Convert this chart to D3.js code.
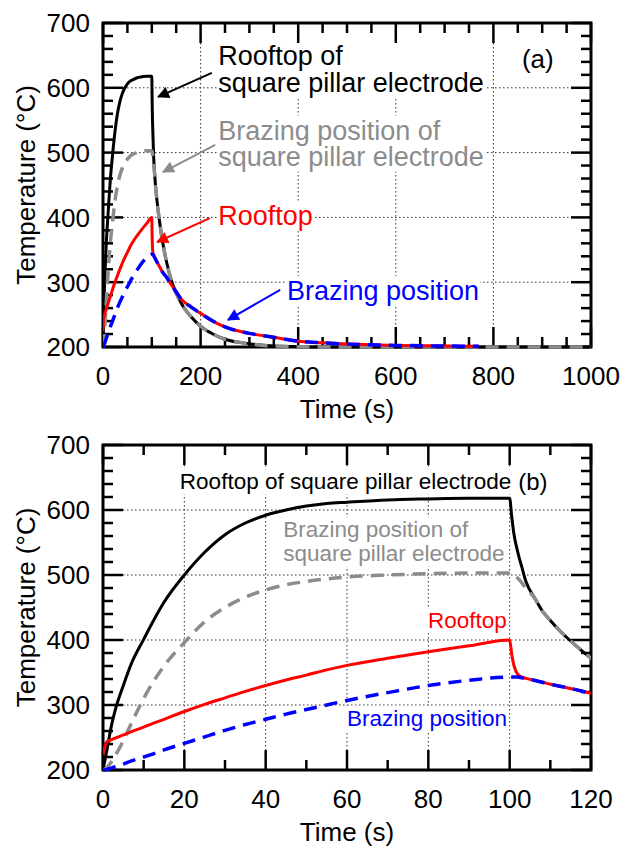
<!DOCTYPE html>
<html>
<head>
<meta charset="utf-8">
<script src="https://cdn.jsdelivr.net/npm/d3@7"></script>
<style>
  body { margin: 0; background: #fff; }
  svg { display: block; }
  text { font-family: "Liberation Sans", Arial, Helvetica, sans-serif; }
</style>
</head>
<body>
<svg id="chart" width="633" height="847"></svg>
<script>
// Time samples (s) shared by all four temperature histories
const timeS = [0,1,2,3,5,7,10,12,15,20, 25,30,35,40,45,50,55,60,70,80,
  90,100,100.5,101,102,103,104,106,108,110, 113,116,120,130,140,150,160,180,200,225,
  250,300,350,400,450,500,600,700,770,800, 900,1000];

// Temperature (°C) at the rooftop of the square pillar electrode
const rooftopSquare = [200,232,266,292,330,364,401,425,458,500, 535,562,580,592,600,606,610,612,615.5,617,
  618,618,590,565,535,512,490,466,445,430, 410,393,372,332,303,283,268,247,232,220,
  212,205,201.5,200.5,200,200,200,200,200,200, 200,200];

// Temperature (°C) at the brazing position of the square pillar electrode
const brazingSquare = [200,204,212,222,245,272,310,332,360,396, 428,450,466,477,485,490,494,497,500,502,
  503,503,502,500,495,488,479,466,445,430, 410,393,372,332,303,283,268,247,232,220,
  212,205,201.5,200.5,200,200,200,200,200,200, 200,200];

// Temperature (°C) at the rooftop
const rooftop = [224,244,246.5,249,254,259,266,271,278,290, 301,311,321,330,338.5,346,354,361,372,382,
  391,400,378,362,347,343,341,338,335,332, 328,324,318,308,296,285,274,262,252,240,
  231,221,215,209,206.5,204.5,202.5,201.5,201,null, null,null];

// Temperature (°C) at the brazing position
const brazing = [200,201,203,205,209,214,220,224,231,241, 251,261,270,278,286,293,300,307,319,330,
  338,343,343,343,343,342,341,338,335,332, 328,324,318,308,296,285,274,262,252,240,
  231,221,215,209,206.5,204.5,202.5,201.5,201,null, null,null];

// Tick labels
const yTickLabels = [200,300,400,500,600,700];
const xTickLabelsA = [0,200,400,600,800,1000];
const xTickLabelsB = [0,20,40,60,80,100,120];

const series = [
  { name: "rooftopSquare", values: rooftopSquare, color: "#000000", width: 3,   dash: null },
  { name: "brazingSquare", values: brazingSquare, color: "#8c8c8c", width: 3.5, dash: "13,8" },
  { name: "rooftop",       values: rooftop,       color: "#ff0000", width: 3,   dash: null },
  { name: "brazing",       values: brazing,       color: "#0000ff", width: 3.5, dash: "13,8" }
];

const svg = d3.select("#chart");
svg.append("rect").attr("width", 633).attr("height", 847).attr("fill", "#fff");
const defs = svg.append("defs");

function arrowMarker(id, color) {
  defs.append("marker")
    .attr("id", id)
    .attr("viewBox", "0 0 10 10")
    .attr("refX", 9).attr("refY", 5)
    .attr("markerWidth", 18).attr("markerHeight", 12)
    .attr("markerUnits", "userSpaceOnUse")
    .attr("orient", "auto")
    .append("path").attr("d", "M0,0 L10,5 L0,10 Z").attr("fill", color);
}

function drawPanel(cfg) {
  const left = 103, right = 591;
  const x = d3.scaleLinear().domain(cfg.xDomain).range([left, right]);
  const y = d3.scaleLinear().domain([200, 700]).range([cfg.bottom, cfg.top]);
  const g = svg.append("g");

  // dotted grid at the major ticks
  const grid = g.append("g").attr("stroke", "#333").attr("stroke-width", 1).attr("stroke-dasharray", "1.5,2.5");
  cfg.xTicks.slice(1, -1).forEach(v => grid.append("line")
    .attr("x1", x(v)).attr("x2", x(v)).attr("y1", cfg.top).attr("y2", cfg.bottom));
  yTickLabels.slice(1, -1).forEach(v => grid.append("line")
    .attr("x1", left).attr("x2", right).attr("y1", y(v)).attr("y2", y(v)));

  const boxLayer = g.append("g");
  const frameLayer = g.append("g");
  const curveLayer = g.append("g");
  const textLayer = g.append("g");

  // frame
  frameLayer.append("rect")
    .attr("x", left).attr("y", cfg.top)
    .attr("width", right - left).attr("height", cfg.bottom - cfg.top)
    .attr("fill", "none").attr("stroke", "#000").attr("stroke-width", 3);

  // inward ticks on all four sides
  const ticks = frameLayer.append("g").attr("stroke", "#000").attr("stroke-width", 2.5);
  const [xa, xb] = cfg.xDomain;
  d3.range(xa, xb + 1e-9, cfg.xMinor).forEach(v => {
    const len = cfg.xTicks.includes(v) ? 20 : 10;
    ticks.append("line").attr("x1", x(v)).attr("x2", x(v)).attr("y1", cfg.bottom).attr("y2", cfg.bottom - len);
    ticks.append("line").attr("x1", x(v)).attr("x2", x(v)).attr("y1", cfg.top).attr("y2", cfg.top + len);
  });
  d3.range(200, 700 + 1e-9, 20).forEach(v => {
    const len = yTickLabels.includes(v) ? 20 : 10;
    ticks.append("line").attr("x1", left).attr("x2", left + len).attr("y1", y(v)).attr("y2", y(v));
    ticks.append("line").attr("x1", right).attr("x2", right - len).attr("y1", y(v)).attr("y2", y(v));
  });

  // tick labels
  cfg.xTicks.forEach(v => textLayer.append("text")
    .attr("x", x(v)).attr("y", cfg.bottom + 38)
    .attr("text-anchor", "middle").attr("font-size", 26).text(v));
  yTickLabels.forEach(v => textLayer.append("text")
    .attr("x", left - 13).attr("y", y(v)).attr("dy", "0.36em")
    .attr("text-anchor", "end").attr("font-size", 26).text(v));

  // axis titles
  textLayer.append("text")
    .attr("x", (left + right) / 2).attr("y", cfg.bottom + 71)
    .attr("text-anchor", "middle").attr("font-size", 26).text("Time (s)");
  textLayer.append("text")
    .attr("transform", `translate(35,${(cfg.top + cfg.bottom) / 2}) rotate(-90)`)
    .attr("text-anchor", "middle").attr("font-size", 26).text("Temperature (°C)");

  // curves, clipped to the plot box (a little slack at the bottom edge)
  const clipId = "clip-" + cfg.id;
  defs.append("clipPath").attr("id", clipId).append("rect")
    .attr("x", left).attr("y", cfg.top - 2)
    .attr("width", right - left).attr("height", cfg.bottom - cfg.top + 6);
  const line = d3.line()
    .defined(d => d[1] !== null)
    .x(d => x(d[0])).y(d => y(d[1]))
    .curve(d3.curveMonotoneX);
  curveLayer.attr("clip-path", `url(#${clipId})`);
  series.forEach(s => {
    const pts = timeS.map((t, i) => [t, s.values[i]]).filter(p => p[0] <= xb + 20);
    curveLayer.append("path")
      .attr("d", line(pts))
      .attr("fill", "none")
      .attr("stroke", s.color)
      .attr("stroke-width", s.width)
      .attr("stroke-dasharray", s.dash)
      .attr("stroke-linejoin", "round");
  });

  // annotations (one text element per label, lines as tspans) on white boxes hiding the grid
  cfg.notes.forEach(n => {
    const tx = textLayer.append("text")
      .attr("x", x(n.t)).attr("y", y(n.T))
      .attr("text-anchor", n.anchor || "start")
      .attr("font-size", n.size).attr("fill", n.color);
    n.lines.forEach((s, i) => tx.append("tspan")
      .attr("x", x(n.t)).attr("dy", i === 0 ? 0 : n.lh).text(s));
    const bb = tx.node().getBBox();
    boxLayer.append("rect")
      .attr("x", bb.x - 1).attr("y", bb.y)
      .attr("width", bb.width + 2).attr("height", bb.height)
      .attr("fill", "#fff");
  });

  (cfg.arrows || []).forEach(a => {
    const id = "ah-" + cfg.id + "-" + a.color.replace("#", "");
    arrowMarker(id, a.color);
    textLayer.append("line")
      .attr("x1", x(a.from[0])).attr("y1", y(a.from[1]))
      .attr("x2", x(a.to[0])).attr("y2", y(a.to[1]))
      .attr("stroke", a.color).attr("stroke-width", 2)
      .attr("marker-end", `url(#${id})`);
  });
}

drawPanel({
  id: "a", top: 23, bottom: 347,
  xDomain: [0, 1000], xTicks: xTickLabelsA, xMinor: 50,
  notes: [
    { lines: ["Rooftop of", "square pillar electrode"], t: 236, T: 635, lh: 27, size: 27, color: "#000" },
    { lines: ["Brazing position of", "square pillar electrode"], t: 236, T: 520, lh: 26, size: 27, color: "#8c8c8c" },
    { lines: ["Rooftop"], t: 236, T: 388, lh: 0, size: 27, color: "#ff0000" },
    { lines: ["Brazing position"], t: 377, T: 272.5, lh: 0, size: 27, color: "#0000ff" },
    { lines: ["(a)"], t: 891, T: 630.5, lh: 0, size: 26, color: "#000", anchor: "middle" }
  ],
  arrows: [
    { from: [223, 623], to: [113, 586], color: "#000000" },
    { from: [230, 512], to: [123, 470], color: "#8c8c8c" },
    { from: [219, 399], to: [111, 362], color: "#ff0000" },
    { from: [363, 288], to: [256, 242], color: "#0000ff" }
  ]
});

drawPanel({
  id: "b", top: 445, bottom: 770,
  xDomain: [0, 120], xTicks: xTickLabelsB, xMinor: 10,
  notes: [
    { lines: ["Rooftop of square pillar electrode"], t: 18.9, T: 632, lh: 0, size: 22.5, color: "#000" },
    { lines: ["Brazing position of", "square pillar electrode"], t: 44.3, T: 558, lh: 24, size: 22.5, color: "#8c8c8c" },
    { lines: ["Rooftop"], t: 79.9, T: 418.5, lh: 0, size: 22.5, color: "#ff0000" },
    { lines: ["Brazing position"], t: 60, T: 268, lh: 0, size: 22.5, color: "#0000ff" },
    { lines: ["(b)"], t: 105.7, T: 631, lh: 0, size: 24, color: "#000", anchor: "middle" }
  ],
  arrows: []
});
</script>
</body>
</html>
